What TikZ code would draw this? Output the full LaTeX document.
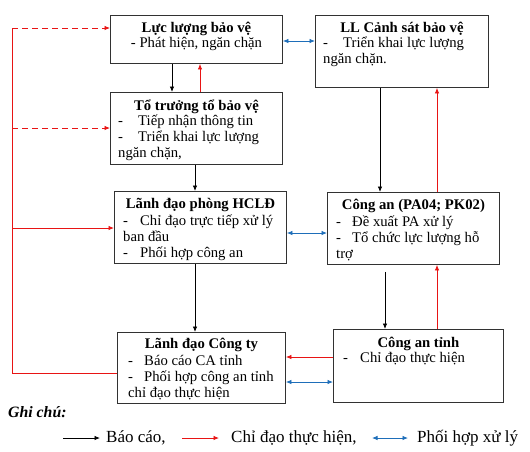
\documentclass[tikz,border=0pt]{standalone}
\usepackage{fontspec}
\setmainfont{Liberation Serif}
\usetikzlibrary{arrows.meta,calc}
\definecolor{cred}{RGB}{232,20,20}
\definecolor{cblue}{RGB}{30,110,185}
\definecolor{cgray}{RGB}{50,50,50}
\newcommand{\bl}[1][17pt]{\makebox[#1][l]{-}}
\newcommand{\fs}{\fontsize{14.7}{16.3}\selectfont}
\begin{document}
\begin{tikzpicture}[x=1pt,y=-1pt,
  box/.style={draw=cgray,line width=0.9pt,inner sep=0,anchor=north west},
  ttl/.style={inner sep=0,anchor=base,font=\fs\bfseries},
  body/.style={inner sep=0,anchor=north west,align=left,font=\fs},
  cbody/.style={inner sep=0,anchor=base,font=\fs},
  tip/.style={-{Latex[length=5.5pt,width=4.5pt]}},
  blk/.style={draw=black,line width=0.8pt,tip},
  rdl/.style={draw=cred,line width=0.8pt},
  rda/.style={rdl,tip},
  blu/.style={draw=cblue,line width=0.8pt,{Latex[length=5.5pt,width=4.5pt]}-{Latex[length=5.5pt,width=4.5pt]}},
  dsh/.style={dash pattern=on 6pt off 4pt},
  leg/.style={inner sep=0,anchor=base west,font=\fontsize{17}{19}\selectfont}]
\useasboundingbox (0,0) rectangle (530,451);
% boxes
\node[box,minimum width=172pt,minimum height=48pt] (b1) at (110,15) {};
\node[box,minimum width=173pt,minimum height=72pt] (b2) at (315,15) {};
\node[box,minimum width=172pt,minimum height=72pt] (b3) at (110,92) {};
\node[box,minimum width=172pt,minimum height=72pt] (b4) at (114,191) {};
\node[box,minimum width=172pt,minimum height=72pt] (b5) at (327,192) {};
\node[box,minimum width=168pt,minimum height=71pt] (b6) at (117,332) {};
\node[box,minimum width=170pt,minimum height=73pt] (b7) at (333,329) {};
% texts
\node[ttl] (t1) at ($(b1.north)+(0,17)$) {Lực lượng bảo vệ};
\node[cbody] (s1) at ($(b1.north)+(0,32)$) {- Phát hiện, ngăn chặn};
\node[ttl] (t2) at ($(b2.north)+(0,17)$) {LL Cảnh sát bảo vệ};
\node[body] (s2) at ($(b2.north west)+(8,20.6)$) {\strut\bl[20pt]Triển khai lực lượng\\ngăn chặn.};
\node[ttl] (t3) at ($(b3.north)+(0,18)$) {Tổ trưởng tổ bảo vệ};
\node[body] (s3) at ($(b3.north west)+(8,21.6)$) {\strut\bl[20pt]Tiếp nhận thông tin\\\bl[20pt]Triển khai lực lượng\\ngăn chặn,};
\node[ttl] (t4) at ($(b4.north)+(0,17)$) {Lãnh đạo phòng HCLĐ};
\node[body] (s4) at ($(b4.north west)+(9,22.6)$) {\strut\bl Chỉ đạo trực tiếp xử lý\\ban đầu\\\bl Phối hợp công an};
\node[ttl] (t5) at ($(b5.north)+(0,17)$) {Công an (PA04; PK02)};
\node[body] (s5) at ($(b5.north west)+(9,22.6)$) {\strut\bl[16pt]Đề xuất PA xử lý\\\bl[16pt]Tổ chức lực lượng hỗ\\trợ};
\node[ttl] (t6) at ($(b6.north)+(0,16)$) {Lãnh đạo Công ty};
\node[body] (s6) at ($(b6.north west)+(11,21.6)$) {\strut\bl[16pt]Báo cáo CA tỉnh\\\bl[16pt]Phối hợp công an tỉnh\\chỉ đạo thực hiện};
\node[ttl] (t7) at ($(b7.north)+(0,18)$) {Công an tỉnh};
\node[body] (s7) at ($(b7.north west)+(10,21.6)$) {\strut\bl Chỉ đạo thực hiện};
% x positions
\coordinate (xa) at (172,0);
\coordinate (xb) at (200,0);
\coordinate (xc) at (195,0);
\coordinate (xd) at (380,0);
\coordinate (xe) at (437,0);
\coordinate (xf) at (385,0);
\coordinate (ya) at (0,41);
\coordinate (yb) at (0,233);
\coordinate (yc) at (0,357);
\coordinate (yd) at (0,382);
% connectors
\draw[blk] (b1.south -| xa) -- (b3.north -| xa);
\draw[rda] (b3.north -| xb) -- (b1.south -| xb);
\draw[blu] (b1.east |- ya) -- (b2.west |- ya);
\draw[blk] (b3.south -| xc) -- (b4.north -| xc);
\draw[blk] (b2.south -| xd) -- (b5.north -| xd);
\draw[rda] (b5.north -| xe) -- (b2.south -| xe);
\draw[blu] (b4.east |- yb) -- (b5.west |- yb);
\draw[blk] (b4.south -| xc) -- (b6.north -| xc);
\draw[blk] ($(b5.south -| xf)+(0,7)$) -- (b7.north -| xf);
\draw[rda] (b7.north -| xe) -- (b5.south -| xe);
\draw[rda] (b7.west |- yc) -- (b6.east |- yc);
\draw[blu] (b6.east |- yd) -- (b7.west |- yd);
% left red line
\coordinate (lt) at (12,28);
\coordinate (lm) at (12,128);
\coordinate (ln) at (12,228);
\coordinate (lb) at (12,373);
\draw[rdl] (b6.west |- lb) -- (lb) -- (lt);
\draw[rda,dsh] (lt) -- (b1.west |- lt);
\draw[rda,dsh] (lm) -- (b3.west |- lm);
\draw[rda] (ln) -- (b4.west |- ln);
% legend
\node[leg,font=\fontsize{15.8}{18}\selectfont\bfseries\itshape] (gc) at (8,417) {Ghi chú:};
\node[leg] (g1) at (106,442) {Báo cáo,};
\node[leg] (g2) at (231,442) {Chỉ đạo thực hiện,};
\node[leg] (g3) at (417,442) {Phối hợp xử lý};
\coordinate (a1) at (63,438);
\coordinate (a2) at (100,438);
\coordinate (a3) at (182,438);
\coordinate (a4) at (219,438);
\coordinate (a5) at (372,438);
\coordinate (a6) at (408,438);
\draw[blk] (a1) -- (a2);
\draw[rda] (a3) -- (a4);
\draw[blu] (a5) -- (a6);
\end{tikzpicture}
\end{document}
